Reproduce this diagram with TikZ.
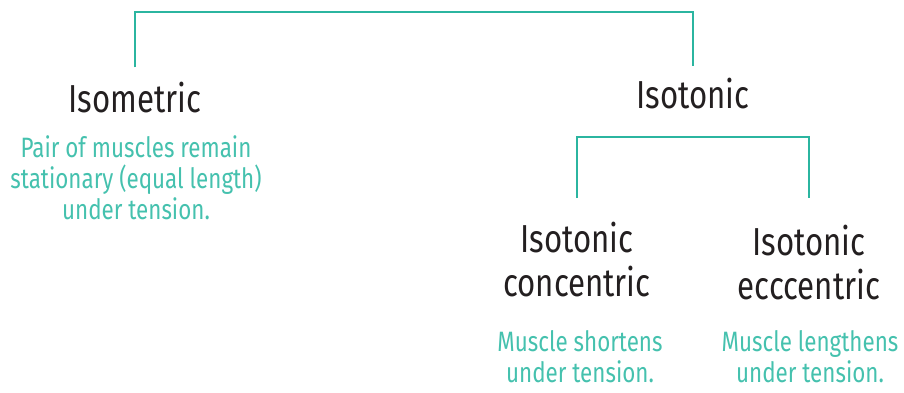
\documentclass[tikz,border=0pt]{standalone}
\usepackage{fontspec}
\setmainfont{Fira Sans}[FakeStretch=0.8]
\definecolor{ink}{HTML}{231F20}
\definecolor{mint}{HTML}{45C1AE}
\definecolor{line}{HTML}{2BB5A0}

\begin{document}
\begin{tikzpicture}[
                x=1pt, y=-1pt,
                kind/.style={inner sep=0pt, align=center, text=ink, font=\fontsize{39}{44}\selectfont},
                note/.style={inner sep=0pt, align=center, text=mint, font=\fontsize{28}{31}\selectfont},
                link/.style={draw=line, line width=2.8pt},
            ]
            \useasboundingbox (0,0) rectangle (904,392);

            \node[kind, anchor=base] (isometric) at (135,112) {Isometric};
            \node[kind, anchor=base] (isotonic) at (693,108) {Isotonic};
            \node[kind, anchor=north] (concentric) at (577,222) {Isotonic\\concentric};
            \node[kind, anchor=north] (eccentric) at (809,225) {Isotonic\\ecccentric};

            \node[note, anchor=north] (isometricnote) at (136,135) {Pair of muscles remain\\stationary (equal length)\\under tension.};
            \node[note, anchor=north] (concentricnote) at (580,330) {Muscle shortens\\under tension.};
            \node[note, anchor=north] (eccentricnote) at (810,330) {Muscle lengthens\\under tension.};

            \coordinate (top) at (693,12);
            \coordinate (mid) at (809,137);

            \draw[link] ([yshift=14pt]isometric.north) |- (top) -| ([yshift=11pt]isotonic.north);
            \draw[link] ([yshift=24pt]concentric.north) |- (mid) -| ([yshift=27pt]eccentric.north);
        \end{tikzpicture}
\end{document}
